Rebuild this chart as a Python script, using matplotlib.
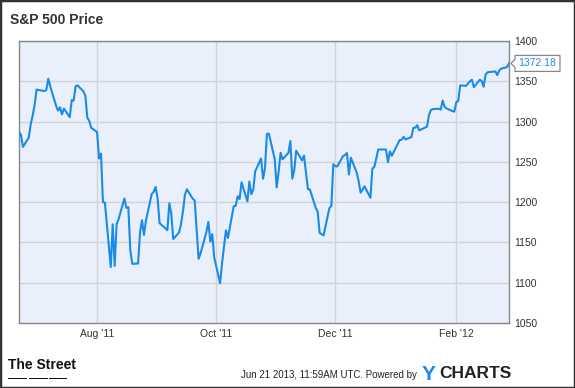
import matplotlib
matplotlib.use("Agg")
import matplotlib.pyplot as plt
import matplotlib.dates as mdates
import matplotlib.transforms as mtransforms
from matplotlib.patches import Polygon, Rectangle
import pandas as pd

plt.rcParams['font.family'] = ['Liberation Sans', 'DejaVu Sans']

# trading days Jun 22 2011 .. Feb 28 2012
holidays = ['2011-07-04', '2011-09-05', '2011-11-24', '2011-12-26',
            '2012-01-02', '2012-01-16', '2012-02-20']
dates = pd.bdate_range('2011-06-22', '2012-02-28', freq='C', holidays=holidays)

# closing prices
jun = [1287.1, 1283.5, 1268.5, 1280.1, 1296.7, 1307.4, 1320.6]
jul = [1339.7, 1337.9, 1339.2, 1353.2, 1343.8, 1319.5, 1313.6, 1317.7, 1308.9, 1316.1,
       1305.4, 1326.7, 1325.8, 1343.8, 1345.0, 1337.4, 1331.9, 1304.9, 1300.7, 1292.3]
aug = [1286.9, 1254.1, 1260.3, 1200.1, 1199.4, 1119.5, 1172.5, 1120.8, 1172.6, 1178.8,
       1204.5, 1192.8, 1193.9, 1140.7, 1123.5, 1123.8, 1162.4, 1177.6, 1159.3, 1176.8,
       1210.1, 1212.9, 1218.9]
sep = [1204.4, 1174.0, 1165.2, 1198.6, 1185.9, 1154.2, 1162.3, 1172.9, 1188.7, 1209.1,
       1216.0, 1204.1, 1202.1, 1166.8, 1129.6, 1136.4, 1163.0, 1175.4, 1151.1, 1160.4,
       1131.4]
oct_ = [1099.2, 1124.0, 1144.0, 1165.0, 1155.5, 1194.9, 1195.5, 1207.3, 1203.7, 1224.6,
        1200.9, 1225.4, 1209.9, 1215.4, 1238.3, 1254.2, 1229.1, 1242.0, 1284.6, 1285.1,
        1253.3]
nov = [1218.3, 1237.9, 1261.2, 1253.2, 1261.1, 1275.9, 1229.1, 1239.7, 1263.9, 1251.8,
       1257.8, 1236.9, 1216.1, 1215.7, 1193.0, 1188.0, 1161.8, 1158.7, 1192.6, 1195.2,
       1247.0]
dec = [1244.6, 1244.3, 1257.1, 1258.5, 1261.0, 1234.4, 1255.2, 1236.5, 1225.7, 1211.8,
       1215.8, 1219.7, 1205.4, 1241.3, 1243.7, 1254.0, 1265.3, 1265.4, 1249.6, 1263.0,
       1257.6]
jan = [1277.1, 1277.3, 1281.1, 1277.8, 1280.7, 1292.1, 1292.5, 1295.5, 1289.1, 1293.7,
       1308.0, 1314.5, 1315.4, 1316.0, 1314.7, 1326.1, 1318.4, 1316.3, 1313.0, 1312.4]
feb = [1324.1, 1325.5, 1344.9, 1344.3, 1347.1, 1350.0, 1352.0, 1342.6, 1351.8, 1350.5,
       1343.2, 1358.0, 1361.2, 1362.2, 1357.7, 1363.5, 1365.7, 1367.6, 1372.18]
prices = jun + jul + aug + sep + oct_ + nov + dec + jan + feb

y_ticks = [1050, 1100, 1150, 1200, 1250, 1300, 1350, 1400]
x_ticks = ['2011-08-01', '2011-10-01', '2011-12-01', '2012-02-01']
x_labels = ["Aug '11", "Oct '11", "Dec '11", "Feb '12"]
last_label = '1372.18'

line_color = '#1a8be8'
text_color = '#333333'

fig = plt.figure(figsize=(5.75, 3.88), dpi=100)
fig.patch.set_facecolor('white')
ax = fig.add_axes([19 / 575, 65 / 388, 490 / 575, 282 / 388])
ax.set_facecolor('#e9f0fb')

ax.plot(dates, prices, color=line_color, lw=1.5, solid_joinstyle='round', zorder=3)

ax.set_xlim(pd.Timestamp('2011-06-22'), pd.Timestamp('2012-02-28'))
ax.set_ylim(1050, 1400)
ax.set_yticks(y_ticks)
ax.set_xticks(pd.to_datetime(x_ticks))
ax.set_xticklabels(x_labels)
ax.yaxis.tick_right()
ax.tick_params(axis='both', length=0, labelsize=7.5, labelcolor=text_color)
ax.tick_params(axis='y', pad=4)
ax.tick_params(axis='x', pad=4)
ax.grid(True, color='#d3d3d3', lw=1)
ax.set_axisbelow(True)
for s in ax.spines.values():
    s.set_color('#888888')
    s.set_linewidth(1)

# last value callout
x0 = mdates.date2num(dates[-1])
y0 = prices[-1]
trans = fig.dpi_scale_trans + mtransforms.ScaledTranslation(x0, y0, ax.transData)
px = 0.01
verts = [(2 * px, 0), (6 * px, 4 * px), (6 * px, 8 * px), (51 * px, 8 * px),
         (51 * px, -8 * px), (6 * px, -8 * px), (6 * px, -4 * px)]
ax.add_patch(Polygon(verts, closed=True, transform=trans, fc='white', ec='#888888',
                     lw=0.9, clip_on=False, zorder=5))
fig.text(28.5 * px, 0, last_label, transform=trans, ha='center', va='center',
         fontsize=7.5, color=line_color, zorder=6)

# title
fig.text(10 / 575, 1 - 20 / 388, 'S&P 500 Price', fontsize=10, fontweight='bold',
         color=text_color, va='center', ha='left')

# footer
fig.text(8 / 575, 1 - 365 / 388, 'The Street', fontsize=10, fontweight='bold',
         color='#111111', va='center', ha='left')
for a, b in [(8, 27), (29, 48), (49, 67)]:
    fig.add_artist(Rectangle((a / 575, 1 - 379 / 388), (b - a) / 575, 1.5 / 388,
                             transform=fig.transFigure, fc='#111111', ec='none'))
fig.text(417 / 575, 1 - 375 / 388, 'Jun 21 2013, 11:59AM UTC. Powered by', fontsize=7,
         color='#222222', va='center', ha='right')
fig.text(422 / 575, 1 - 374 / 388, 'Y', fontsize=15, fontweight='bold',
         color=line_color, va='center', ha='left')
fig.text(439 / 575, 1 - 374 / 388, 'CHARTS', fontsize=12.5, fontweight='bold',
         color='#222222', va='center', ha='left')

# outer frame
fig.add_artist(Rectangle((0, 0), 1, 1, transform=fig.transFigure, fill=False,
                         ec='#333333', lw=2.5))

fig.savefig('out.png', dpi=100)
